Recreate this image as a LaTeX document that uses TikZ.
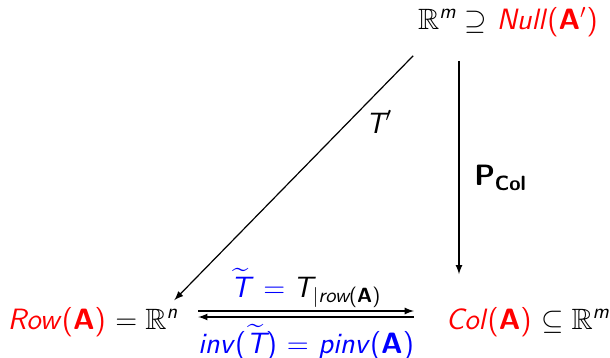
\documentclass[tikz,border=0pt]{standalone}
\usepackage{amsmath,amssymb}
\usetikzlibrary{arrows}
\newcommand{\si}[1]{\textsf{\itshape #1}}
\newcommand{\sbf}[1]{\textsf{\bfseries #1}}
\begin{document}
\begin{tikzpicture}[x=0.5pt, y=-0.5pt, every node/.style={font=\sffamily\fontsize{14.7}{17}\selectfont},
    arr/.style={-latex, semithick}]
  \useasboundingbox (0,0) rectangle (610,358);

  % spaces
  \node (top) at (508,22) {$\mathbb{R}^{\si{m}} \supseteq$ \textcolor{red}{\si{Null}(\sbf{A}$'$)}};
  \node (row) at (93,322) {\textcolor{red}{\si{Row}(\sbf{A})} $= \mathbb{R}^{\si{n}}$};
  \node (col) at (528,322) {\textcolor{red}{\si{Col}(\sbf{A})} $\subseteq \mathbb{R}^{\si{m}}$};

  % maps from the top
  \draw[arr] ([shift={(2,12)}]top.south west) -- node[pos=0.27, right=5pt] {$\si{T}'$}
    ([shift={(-11,0)}]row.north east);
  \draw[arr] ([shift={(-49,17)}]top.south) -- node[pos=0.55, right=4pt] {\sbf{P}$_{\sbf{Col}}$}
    ([shift={(-69,-26)}]col.north);

  % maps between row and column space
  \draw[arr] ([shift={(13,-11)}]row.east) -- node[above=-2pt, text=blue]
    {$\widetilde{\si{T}}\, = {}$\textcolor{black}{$\si{T}_{|\si{row}\textsf{(}\sbf{A}\textsf{)}}$}}
    ([shift={(-25,-11)}]col.west);
  \draw[arr] ([shift={(-25,-5)}]col.west) -- node[below, text=blue]
    {\si{inv}($\widetilde{\si{T}}$) $=$ \si{pinv}(\sbf{A})}
    ([shift={(13,-5)}]row.east);
\end{tikzpicture}
\end{document}
